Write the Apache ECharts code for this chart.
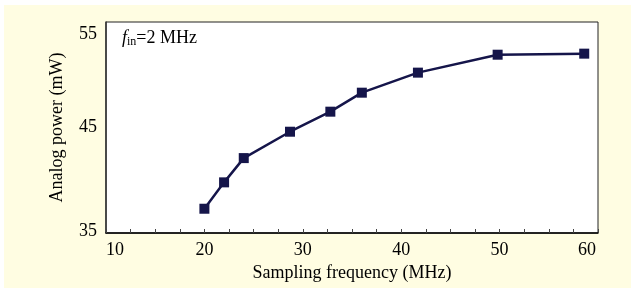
<!DOCTYPE html>
<html>
<head>
<meta charset="utf-8">
<title>Analog power vs sampling frequency</title>
<script src="https://cdn.jsdelivr.net/npm/echarts@6/dist/echarts.min.js"></script>
<style>
  html, body { margin: 0; padding: 0; background: #fff; }
  #wrap { position: relative; width: 631px; height: 288px; }
  #bg { position: absolute; left: 4px; top: 5px; right: 0; bottom: 0; background: #fffde2; }
  #chart { position: absolute; left: 0; top: 0; width: 631px; height: 288px; }
</style>
</head>
<body>
<div id="wrap">
  <div id="bg"></div>
  <div id="chart"></div>
</div>
<script>
// sampling frequency (MHz) and analog power (mW)
var freqs = [20, 22, 24, 28.7, 32.8, 36, 41.7, 49.8, 58.6]
var power = [37.3, 39.8, 42.1, 44.6, 46.5, 48.3, 50.2, 51.9, 52.0]
var xTicks = [10, 20, 30, 40, 50, 60]
var yTicks = [35, 45, 55]

var serif = '"Liberation Serif", "Times New Roman", serif'
var navy = '#15154a'
var fs = 18

function txt (extra) {
  var s = { fontFamily: serif, fontSize: fs, fontWeight: 'normal', color: '#000' }
  for (var k in extra) s[k] = extra[k]
  return s
}

var chartDom = document.getElementById('chart')
var myChart = echarts.init(chartDom, null, { renderer: 'canvas' })
var option
option = {
  backgroundColor: 'transparent',
  animation: false,
  title: {
    text: '{i|f}{s|in}{n|=2 MHz}',
    left: 117,
    top: 23,
    textStyle: {
      fontWeight: 'normal',
      rich: {
        i: txt({ fontStyle: 'italic' }),
        s: txt({ fontSize: 12, padding: [8, 0, 0, 0] }),
        n: txt({})
      }
    }
  },
  grid: {
    left: 106,
    right: 33,
    top: 22,
    bottom: 55,
    show: true,
    backgroundColor: '#fff',
    borderColor: '#222',
    borderWidth: 1
  },
  xAxis: {
    type: 'value',
    min: xTicks[0],
    max: xTicks[xTicks.length - 1],
    interval: 10,
    name: 'Sampling frequency (MHz)',
    nameLocation: 'middle',
    nameGap: 31,
    nameTextStyle: txt({}),
    axisLine: { lineStyle: { color: '#000', width: 1.5 } },
    axisTick: { show: true, inside: true, length: 4, lineStyle: { color: '#444' } },
    minorTick: { show: true, splitNumber: 4, length: 4, lineStyle: { color: '#444' } },
    splitLine: { show: false },
    axisLabel: {
      margin: 8,
      fontFamily: serif,
      fontSize: fs,
      color: '#000',
      formatter: function (v) {
        if (v === xTicks[0]) return '{l|' + v + '}'
        if (v === xTicks[xTicks.length - 1]) return '{r|' + v + '}'
        return '{m|' + v + '}'
      },
      rich: {
        l: txt({ padding: [0, 0, 0, 18] }),
        r: txt({ padding: [0, 22, 0, 0] }),
        m: txt({})
      }
    }
  },
  yAxis: {
    type: 'value',
    min: yTicks[0],
    max: yTicks[yTicks.length - 1],
    interval: 10,
    name: 'Analog power (mW)',
    nameLocation: 'middle',
    nameGap: 40,
    nameTextStyle: txt({}),
    axisLine: { show: true, lineStyle: { color: '#333', width: 1.5 } },
    axisTick: { show: false },
    splitLine: { show: false },
    axisLabel: {
      margin: 9,
      fontFamily: serif,
      fontSize: fs,
      color: '#000',
      formatter: function (v) {
        if (v === yTicks[yTicks.length - 1]) return '{t|' + v + '}'
        if (v === yTicks[0]) return '{b|' + v + '}'
        return '{m|' + v + '}'
      },
      rich: {
        t: txt({ padding: [24, 0, 0, 0] }),
        b: txt({ padding: [0, 0, 3, 0] }),
        m: txt({})
      }
    }
  },
  series: [
    {
      type: 'line',
      data: freqs.map(function (f, i) { return [f, power[i]] }),
      symbol: 'rect',
      symbolSize: 10,
      lineStyle: { color: navy, width: 2.5 },
      itemStyle: { color: navy }
    }
  ]
}

option && myChart.setOption(option)
</script>
</body>
</html>
